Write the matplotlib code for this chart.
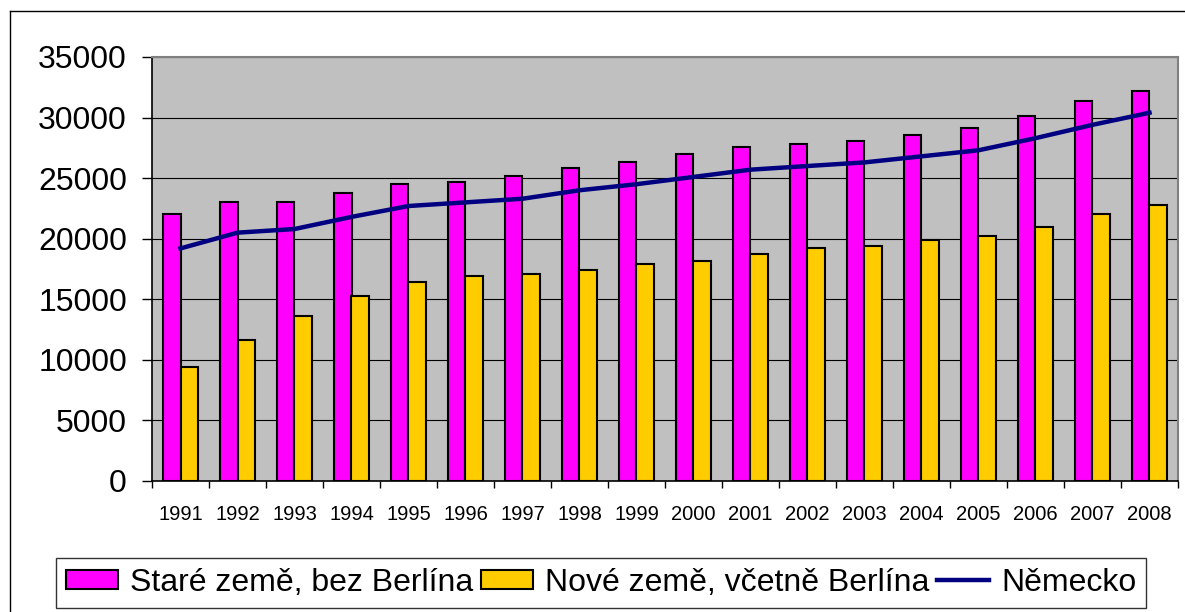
import matplotlib
matplotlib.use("Agg")
import matplotlib.pyplot as plt
import numpy as np
from matplotlib.lines import Line2D

plt.rcParams['font.family'] = ['Liberation Sans', 'DejaVu Sans']

years = ['1991', '1992', '1993', '1994', '1995', '1996', '1997', '1998', '1999',
         '2000', '2001', '2002', '2003', '2004', '2005', '2006', '2007', '2008']
stare = [22000, 23000, 23000, 23800, 24500, 24700, 25200, 25800, 26300,
         27000, 27600, 27800, 28100, 28600, 29100, 30100, 31400, 32200]
nove = [9400, 11600, 13600, 15300, 16400, 16900, 17100, 17400, 17900,
        18200, 18700, 19200, 19400, 19900, 20200, 21000, 22000, 22800]
nemecko = [19200, 20500, 20800, 21800, 22700, 23000, 23300, 24000, 24500,
           25100, 25700, 26000, 26300, 26800, 27300, 28300, 29400, 30400]
labels = ['Staré země, bez Berlína', 'Nové země, včetně Berlína', 'Německo']

W, H = 1185, 612
fig = plt.figure(figsize=(W / 100, H / 100), dpi=100)
L, R, T, B = 152, 1178, 57, 481
ax = fig.add_axes([L / W, 1 - B / H, (R - L) / W, (B - T) / H])
ax.set_facecolor('#C0C0C0')

x = np.arange(len(years))
bw = 0.305
b1 = ax.bar(x - bw / 2, stare, width=bw, color='#FF00FF', edgecolor='black',
            linewidth=1.5, label=labels[0], zorder=3)
b2 = ax.bar(x + bw / 2, nove, width=bw, color='#FFCC00', edgecolor='black',
            linewidth=1.5, label=labels[1], zorder=3)
l1, = ax.plot(x, nemecko, color='#000080', linewidth=3.2, label=labels[2], zorder=4)

ax.set_xlim(-0.5, len(years) - 0.5)
ax.set_ylim(0, 35000)
ax.set_yticks(np.arange(0, 35001, 5000))
ax.grid(axis='y', color='black', linewidth=0.8, zorder=1)
ax.set_axisbelow(True)

ax.set_xticks(x)
ax.set_xticklabels(years, fontsize=14.5)
ax.set_xticks(np.arange(-0.5, len(years), 1), minor=True)
ax.tick_params(axis='x', which='major', length=0, pad=17)
ax.tick_params(axis='x', which='minor', length=5, width=1, color='black', direction='out')
ax.tick_params(axis='y', labelsize=23, length=7, width=1, pad=11, direction='out')

for s in ['top', 'right']:
    ax.spines[s].set_color('#808080')
    ax.spines[s].set_linewidth(1.5)
for s in ['left', 'bottom']:
    ax.spines[s].set_color('black')
    ax.spines[s].set_linewidth(1.2)

leg = fig.legend(handles=[b1, b2, l1], labels=labels,
                 loc='center', bbox_to_anchor=(601 / W, 1 - 583 / H), ncol=3,
                 fontsize=23, frameon=True, fancybox=False, shadow=False,
                 handlelength=1.63, handleheight=0.56, handletextpad=0.37,
                 columnspacing=0.25, borderpad=0.3, borderaxespad=0)
leg.get_frame().set_edgecolor('black')
leg.get_frame().set_linewidth(1)

# outer chart border
fig.add_artist(Line2D([10 / W, 10 / W], [0, 1 - 11 / H], transform=fig.transFigure,
                      color='black', linewidth=1))
fig.add_artist(Line2D([10 / W, 1], [1 - 11 / H, 1 - 11 / H], transform=fig.transFigure,
                      color='black', linewidth=1))

fig.savefig('out.png', dpi=100)
